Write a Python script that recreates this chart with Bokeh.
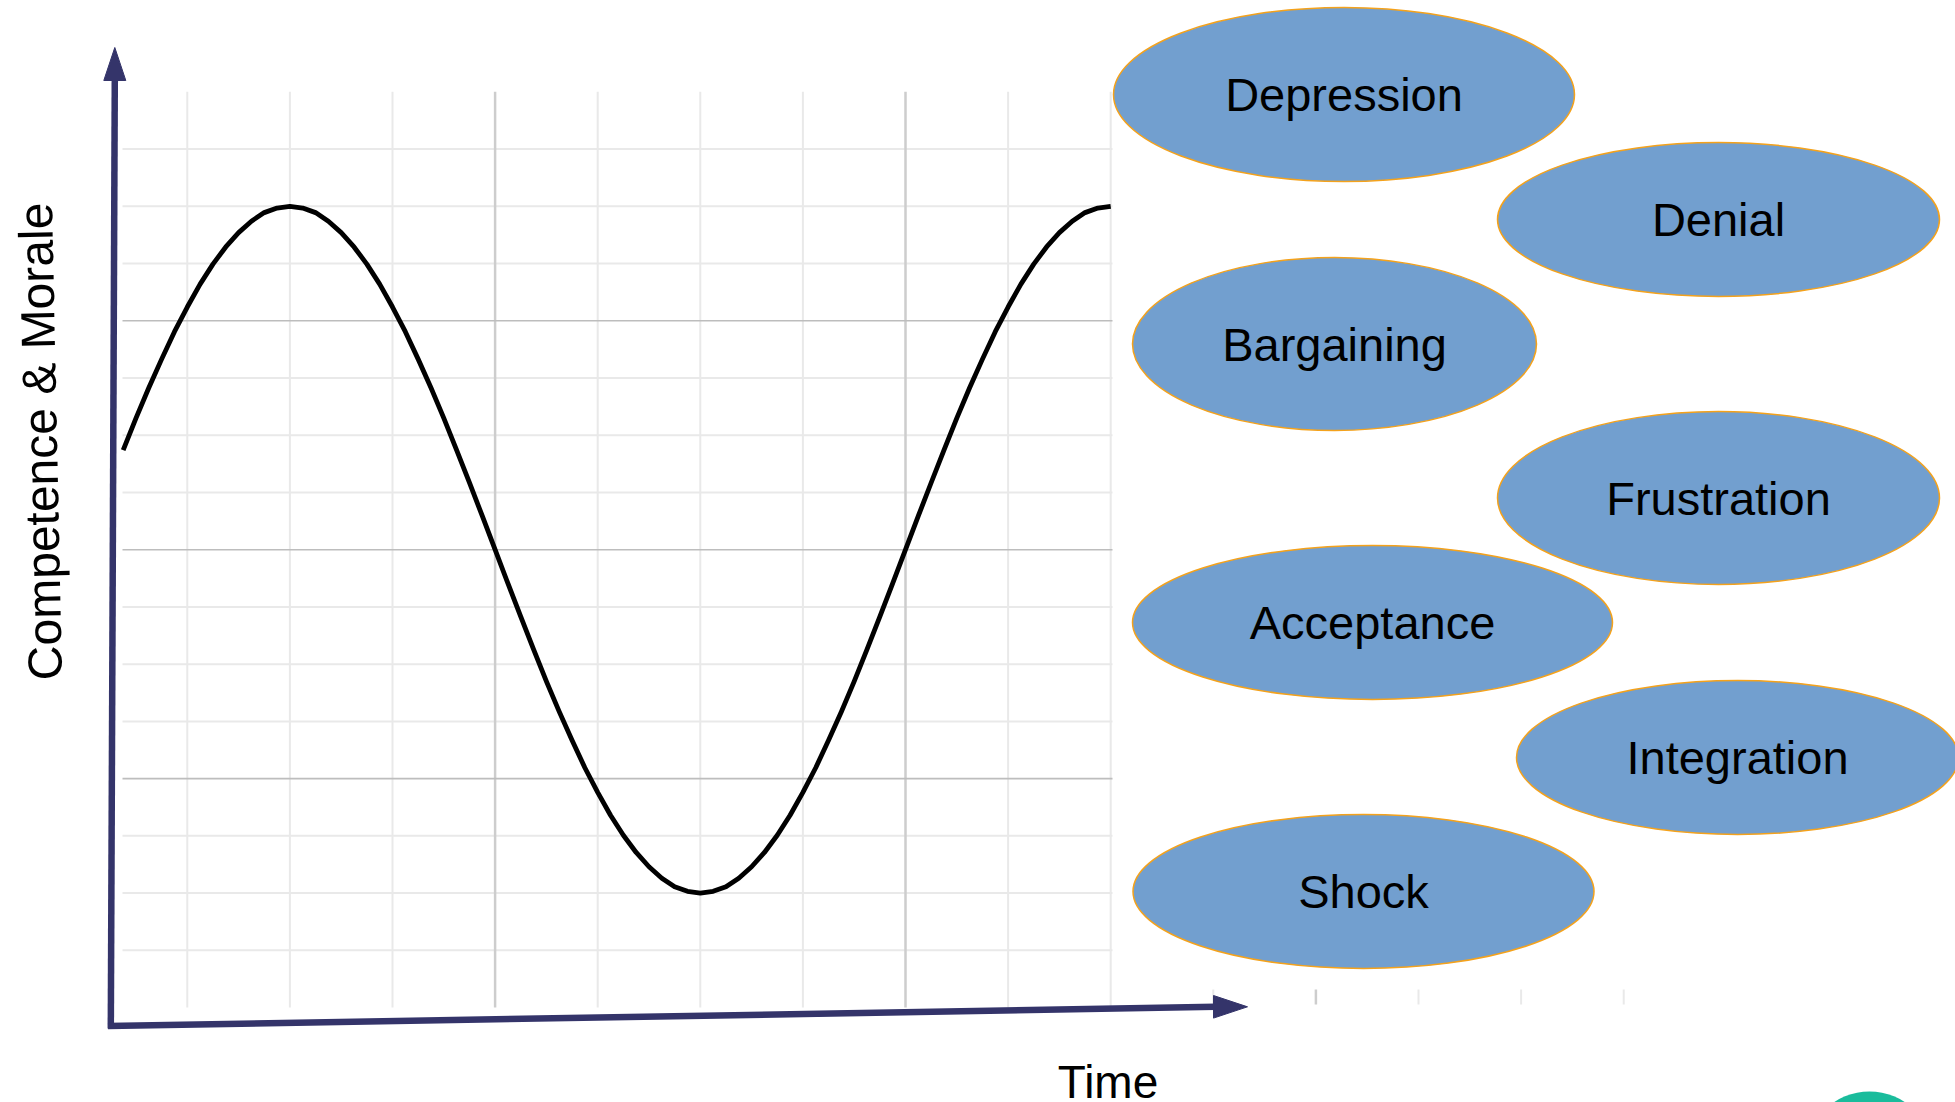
import numpy as np
from bokeh.plotting import figure
from bokeh.models import Range1d, Label
from bokeh.core.properties import value
from bokeh.embed import file_html
from bokeh.resources import INLINE

# ---------------- data ----------------
# curve: x in grid cells of time, y in grid cells of competence & morale
time_x = [0.375, 0.5, 0.625, 0.75, 0.875, 1.0, 1.125, 1.25, 1.375, 1.5, 1.625, 1.75, 1.875,
          2.0, 2.125, 2.25, 2.375, 2.5, 2.625, 2.75, 2.875, 3.0, 3.125, 3.25, 3.375, 3.5,
          3.625, 3.75, 3.875, 4.0, 4.125, 4.25, 4.375, 4.5, 4.625, 4.75, 4.875, 5.0, 5.125,
          5.25, 5.375, 5.5, 5.625, 5.75, 5.875, 6.0, 6.125, 6.25, 6.375, 6.5, 6.625, 6.75,
          6.875, 7.0, 7.125, 7.25, 7.375, 7.5, 7.625, 7.75, 7.875, 8.0, 8.125, 8.25, 8.375,
          8.5, 8.625, 8.75, 8.875, 9.0, 9.125, 9.25, 9.375, 9.5, 9.625, 9.75, 9.875, 10.0]
morale_y = [1.74, 2.30, 2.83, 3.33, 3.81, 4.24, 4.64, 4.99, 5.29, 5.54, 5.74, 5.89, 5.97,
            6.00, 5.97, 5.89, 5.74, 5.54, 5.29, 4.99, 4.64, 4.24, 3.81, 3.33, 2.83, 2.30,
            1.74, 1.17, 0.59, 0.00, -0.59, -1.17, -1.74, -2.30, -2.83, -3.33, -3.81, -4.24, -4.64,
            -4.99, -5.29, -5.54, -5.74, -5.89, -5.97, -6.00, -5.97, -5.89, -5.74, -5.54, -5.29, -4.99,
            -4.64, -4.24, -3.81, -3.33, -2.83, -2.30, -1.74, -1.17, -0.59, 0.00, 0.59, 1.17, 1.74,
            2.30, 2.83, 3.33, 3.81, 4.24, 4.64, 4.99, 5.29, 5.54, 5.74, 5.89, 5.97, 6.00]

stages = ["Depression", "Denial", "Bargaining", "Frustration",
          "Acceptance", "Integration", "Shock"]

minor_h = [-7, -6, -5, -3, -2, -1, 1, 2, 3, 5, 6, 7]
major_h = [-4, 0, 4]
minor_v = [1, 2, 3, 5, 6, 7, 9, 10]
major_v = [4, 8]
stub_minor_v = [11, 13, 14, 15]
stub_major_v = [12]

x_label = "Time"
y_label = "Competence & Morale"

# ---------------- layout (page pixels) ----------------
W, H = 1955, 1102
ORIGIN = 0
X0_PX, X_UNIT = 84.2, 102.6
Y0_PX, Y_UNIT = 549.2, 57.23


def dx(px):
    return (px - X0_PX) / X_UNIT


def dy(py):
    return (Y0_PX - py) / Y_UNIT


# ellipse centres and sizes (page px), same order as stages
ell_cx = [1343.5, 1718, 1334, 1718, 1372, 1737, 1363]
ell_cy = [94, 219, 343.5, 497.5, 622, 757, 891]
ell_w = [461, 442, 404, 442, 480, 442, 461]
ell_h = [174, 154, 173, 173, 154, 154, 154]

FONT = "Liberation Sans"
NAVY = "#34346a"

p = figure(width=W, height=H,
           x_range=Range1d(dx(ORIGIN), dx(ORIGIN + W)),
           y_range=Range1d(dy(ORIGIN + H), dy(ORIGIN)),
           output_backend="svg", toolbar_location=None,
           x_axis_location=None, y_axis_location=None,
           min_border=0, outline_line_color=None,
           background_fill_color="white", border_fill_color="white")
p.grid.visible = False

# ---- grid ----
gx0, gx1 = dx(122), dx(1112)
p.segment(x0=[gx0] * len(minor_h), x1=[gx1] * len(minor_h), y0=minor_h, y1=minor_h,
          line_color="#e9e9e9", line_width=2)
p.segment(x0=minor_v, x1=minor_v, y0=[-8] * len(minor_v), y1=[8] * len(minor_v),
          line_color="#e9e9e9", line_width=2)
p.segment(x0=major_v, x1=major_v, y0=[-8] * len(major_v), y1=[8] * len(major_v),
          line_color="#cdcdcd", line_width=2.5)
p.segment(x0=[gx0] * len(major_h), x1=[gx1] * len(major_h), y0=major_h, y1=major_h,
          line_color="#bdbdbd", line_width=1.6)
sy0, sy1 = dy(989), dy(1004)
p.segment(x0=stub_minor_v, x1=stub_minor_v, y0=[sy0] * len(stub_minor_v),
          y1=[sy1] * len(stub_minor_v), line_color="#e9e9e9", line_width=2)
p.segment(x0=stub_major_v, x1=stub_major_v, y0=[sy0] * len(stub_major_v),
          y1=[sy1] * len(stub_major_v), line_color="#cdcdcd", line_width=2.5)

# ---- curve ----
p.line(time_x, morale_y, line_color="black", line_width=4.8, line_join="round")

# ---- axis arrows ----
p.line([dx(110.3), dx(114.3)], [dy(1028), dy(78)], line_color=NAVY, line_width=6.5)
p.patch([dx(103.3), dx(114.3), dx(125.3)], [dy(80), dy(47), dy(80)],
        fill_color=NAVY, line_color=NAVY, line_width=1)
p.line([dx(107.5), dx(1215)], [dy(1025.5), dy(1006.3)], line_color=NAVY, line_width=6.5)
p.patch([dx(1213), dx(1247), dx(1213)], [dy(995), dy(1006.3), dy(1017.6)],
        fill_color=NAVY, line_color=NAVY, line_width=1)

# ---- stage ellipses ----
ex = [dx(v) for v in ell_cx]
ey = [dy(v) for v in ell_cy]
p.ellipse(x=ex, y=ey, width=ell_w, height=ell_h,
          width_units="screen", height_units="screen",
          fill_color="#729fcf", line_color="#f4a21c", line_width=1.5)
p.text(x=ex, y=ey, text=stages, text_font=value(FONT), text_font_size=value("47px"),
       text_color="black", text_align="center", text_baseline="alphabetic", y_offset=0)

# ---- axis labels ----
p.add_layout(Label(x=dx(40), y=dy(441), text=y_label, angle=np.deg2rad(91.2),
                   text_font=FONT, text_font_size="48px", text_color="black",
                   text_align="center", text_baseline="alphabetic"))
p.add_layout(Label(x=dx(1107.5), y=dy(1081), text=x_label,
                   text_font=FONT, text_font_size="46px", text_color="black",
                   text_align="center", text_baseline="alphabetic"))

# ---- partial teal circle at bottom right ----
p.scatter(x=[dx(1869)], y=[dy(1155)], size=128, fill_color="#1abc9c", line_color=None)

open("out.html", "w").write(file_html(p, INLINE))
